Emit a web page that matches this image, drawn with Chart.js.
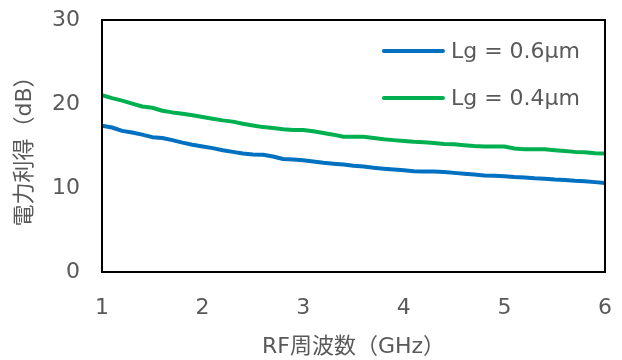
<!DOCTYPE html>
<html>
<head>
<meta charset="utf-8">
<script src="https://cdn.jsdelivr.net/npm/chart.js@4/dist/chart.umd.min.js"></script>
<style>
  html, body { margin: 0; padding: 0; background: #ffffff; }
  #wrap { width: 622px; height: 360px; }
</style>
</head>
<body>
<div id="wrap"><canvas id="c" width="622" height="360"></canvas></div>
<script>
const freqGHz = [1.0,1.1,1.2,1.3,1.4,1.5,1.6,1.7,1.8,1.9,2.0,2.1,2.2,2.3,2.4,2.5,2.6,2.7,2.8,2.9,3.0,3.1,3.2,3.3,3.4,3.5,3.6,3.7,3.8,3.9,4.0,4.1,4.2,4.3,4.4,4.5,4.6,4.7,4.8,4.9,5.0,5.1,5.2,5.3,5.4,5.5,5.6,5.7,5.8,5.9,6.0];
const gainLg06 = [17.4,17.2,16.8,16.6,16.35,16.05,15.95,15.7,15.4,15.15,14.95,14.75,14.5,14.3,14.1,14.0,13.95,13.75,13.45,13.4,13.3,13.15,13.0,12.9,12.8,12.65,12.55,12.4,12.3,12.2,12.1,12.0,11.95,11.95,11.9,11.8,11.7,11.6,11.5,11.45,11.4,11.3,11.25,11.15,11.1,11.0,10.95,10.85,10.8,10.7,10.6];
const gainLg04 = [21.05,20.7,20.4,20.05,19.7,19.55,19.2,19.0,18.85,18.65,18.45,18.25,18.05,17.9,17.65,17.45,17.25,17.15,17.0,16.9,16.9,16.75,16.55,16.35,16.1,16.1,16.1,15.95,15.8,15.7,15.6,15.5,15.45,15.35,15.25,15.2,15.1,15.0,14.95,14.95,14.95,14.7,14.6,14.6,14.6,14.5,14.4,14.3,14.25,14.15,14.1];
const seriesLabels = ['Lg = 0.6μm', 'Lg = 0.4μm'];
const xTicks = [1, 2, 3, 4, 5, 6];
const yTicks = [0, 10, 20, 30];
const xTitle = 'RF周波数（GHz）';
const yTitle = '電力利得（dB）';

const FONT = '"DejaVu Sans", "Noto Sans CJK JP", sans-serif';
const TEXT = '#595959';

const boxLegend = {
  id: 'boxLegend',
  afterDraw(chart) {
    const ctx = chart.ctx;
    const a = chart.chartArea;
    ctx.save();
    ctx.strokeStyle = '#000000';
    ctx.lineWidth = 2;
    ctx.strokeRect(a.left, a.top, a.right - a.left, a.bottom - a.top);
    ctx.font = '22px ' + FONT;
    ctx.textBaseline = 'middle';
    ctx.textAlign = 'left';
    let maxW = 0;
    chart.data.datasets.forEach(ds => { maxW = Math.max(maxW, ctx.measureText(ds.label).width); });
    const textX = a.right - 25 - maxW;
    chart.data.datasets.forEach((ds, i) => {
      const y = a.top + 31 + i * 47;
      ctx.strokeStyle = ds.borderColor;
      ctx.lineWidth = 4;
      ctx.lineCap = 'round';
      ctx.beginPath();
      ctx.moveTo(textX - 67, y);
      ctx.lineTo(textX - 8, y);
      ctx.stroke();
      ctx.fillStyle = TEXT;
      ctx.fillText(ds.label, textX, y + 1);
    });
    ctx.restore();
  }
};

new Chart(document.getElementById('c'), {
  type: 'line',
  data: {
    datasets: [
      { label: seriesLabels[0], data: freqGHz.map((x, i) => ({x, y: gainLg06[i]})), borderColor: '#0070C0', backgroundColor: '#0070C0', borderWidth: 4, pointRadius: 0, tension: 0, borderJoinStyle: 'round' },
      { label: seriesLabels[1], data: freqGHz.map((x, i) => ({x, y: gainLg04[i]})), borderColor: '#00B050', backgroundColor: '#00B050', borderWidth: 4, pointRadius: 0, tension: 0, borderJoinStyle: 'round' }
    ]
  },
  options: {
    responsive: false,
    animation: false,
    events: [],
    layout: { padding: { left: 0, right: 17, top: 20, bottom: 0 } },
    plugins: { legend: { display: false }, tooltip: { enabled: false } },
    scales: {
      x: {
        type: 'linear', min: 1, max: 6,
        afterBuildTicks: s => { s.ticks = xTicks.map(v => ({value: v})); },
        afterFit: s => { s.height = 88; s.paddingLeft = 0; s.paddingRight = 0; },
        grid: { display: false, drawTicks: false },
        border: { display: false },
        ticks: { color: TEXT, font: { family: FONT, size: 22 }, padding: 23, maxRotation: 0, autoSkip: false },
        title: { display: true, text: xTitle, color: TEXT, font: { family: FONT, size: 22 }, padding: { top: 0, bottom: 0 } }
      },
      y: {
        min: 0, max: 30,
        afterBuildTicks: s => { s.ticks = yTicks.map(v => ({value: v})); },
        afterFit: s => { s.width = 102; s.paddingTop = 0; s.paddingBottom = 0; },
        grid: { display: false, drawTicks: false },
        border: { display: false },
        ticks: { color: TEXT, font: { family: FONT, size: 22 }, padding: 22 },
        title: { display: true, text: yTitle, color: TEXT, font: { family: FONT, size: 22 }, padding: { top: 12, bottom: 0 } }
      }
    }
  },
  plugins: [boxLegend]
});
</script>
</body>
</html>
